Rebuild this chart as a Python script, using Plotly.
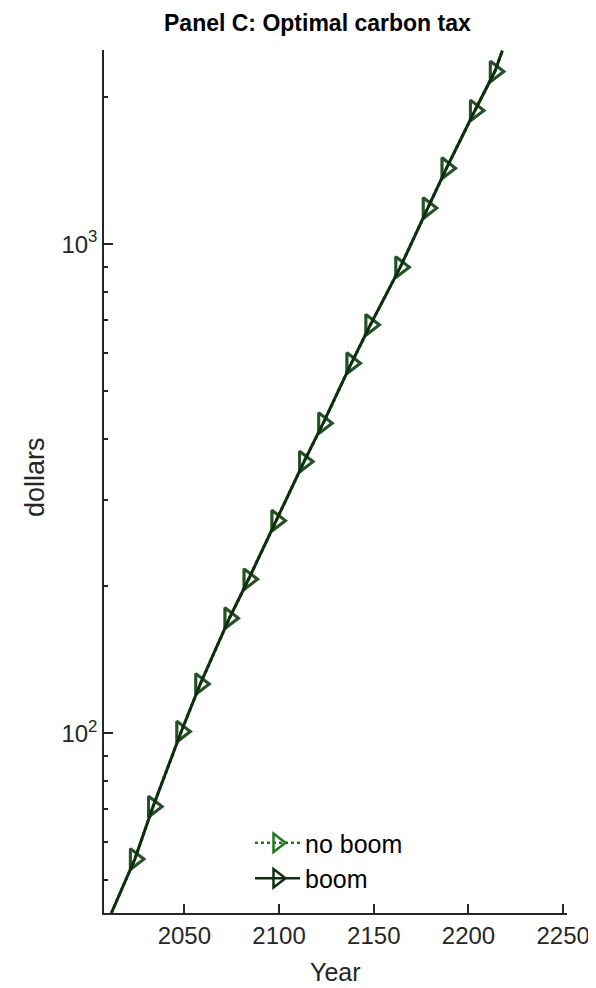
import plotly.graph_objects as go
import math

# ---- data ----
years = [2011.5, 2023.9, 2033.5, 2048.4, 2058.4, 2073.8, 2083.9, 2098.6, 2113.2,
         2123.3, 2138.2, 2148.2, 2164.0, 2178.5, 2188.4, 2203.4, 2213.9, 2217.9]
tax_boom = [42.9, 55.3, 70.8, 100.8, 126.1, 171.9, 206.5, 272.1, 359.3,
            430.5, 571.0, 683.9, 897.4, 1185, 1430, 1876, 2254, 2488]
tax_noboom = [42.9, 55.3, 70.8, 100.8, 126.1, 171.9, 206.5, 272.1, 359.3,
              430.5, 571.0, 683.9, 897.4, 1185, 1430, 1876, 2254, 2488]
marker_flags = [0, 1, 1, 1, 1, 1, 1, 1, 1, 1, 1, 1, 1, 1, 1, 1, 1, 0]

x_ticks = [2050, 2100, 2150, 2200, 2250]
y_ticks = [100, 1000]
y_ticktext = ["10<sup>2</sup>", "10<sup>3</sup>"]
y_minor = [50, 60, 70, 80, 90, 200, 300, 400, 500, 600, 700, 800, 900, 2000]

title_text = "Panel C: Optimal carbon tax"
x_label = "Year"
y_label = "dollars"
names = ["no boom", "boom"]

# ---- styling ----
C_NOBOOM = "#1f7a1f"
C_BOOM = "#0f2e0f"
AX = "#262626"
FONT = "Liberation Sans, Arial, sans-serif"
MS = 18
LW = 3

OFF = 8  # page body offset
W, H = 596 - OFF, 988 - OFF
L, R, T, B = 104 - OFF, 29, 50 - OFF, 75
pw, ph = W - L - R, H - T - B

def px_to_paper_x(px):
    return (px - OFF - L) / pw

def px_to_paper_y(py):
    return (H - B - (py - OFF)) / ph

sizes = [MS if f else 0 for f in marker_flags]

fig = go.Figure()
fig.add_trace(go.Scatter(
    x=years, y=tax_noboom, mode="lines+markers", showlegend=False,
    line=dict(color=C_NOBOOM, width=LW, dash="dot"),
    marker=dict(symbol="triangle-right-open", size=sizes, color=C_NOBOOM,
                line=dict(width=LW, color=C_NOBOOM)),
))
fig.add_trace(go.Scatter(
    x=years, y=tax_boom, mode="lines+markers", showlegend=False,
    line=dict(color=C_BOOM, width=LW),
    marker=dict(symbol="triangle-right-open", size=sizes, color=C_BOOM,
                line=dict(width=LW, color=C_BOOM)),
))
# legend entries
for nm, col, dash in [(names[0], C_NOBOOM, "dot"), (names[1], C_BOOM, "solid")]:
    fig.add_trace(go.Scatter(
        x=[None], y=[None], mode="lines+markers", name=nm,
        line=dict(color=col, width=2.5, dash=dash),
        marker=dict(symbol="triangle-right-open", size=16, color=col,
                    line=dict(width=2.5, color=col)),
    ))

fig.update_layout(
    width=W, height=H,
    margin=dict(l=L, r=R, t=T, b=B, autoexpand=False),
    paper_bgcolor="white", plot_bgcolor="white",
    font=dict(family=FONT, size=24, color=AX),
    showlegend=True,
    legend=dict(x=px_to_paper_x(250), y=px_to_paper_y(820), xanchor="left", yanchor="top",
                bgcolor="rgba(0,0,0,0)", font=dict(size=25, color="#000000"),
                itemwidth=45, tracegroupgap=0),
)
fig.update_xaxes(
    range=[2007.6, 2252], showline=True, linecolor=AX, linewidth=1.5,
    ticks="inside", ticklen=9, tickwidth=1.5, tickcolor=AX,
    tickvals=x_ticks, showgrid=False, zeroline=False, mirror=False,
    tickfont=dict(size=24, color=AX),
)
fig.update_yaxes(
    type="log", range=[math.log10(42.9), 3.397], showline=True, linecolor=AX, linewidth=1.5,
    ticks="inside", ticklen=9, tickwidth=1.5, tickcolor=AX,
    tickvals=y_ticks, ticktext=y_ticktext, showgrid=False, zeroline=False, mirror=False,
    tickfont=dict(size=24, color=AX),
    minor=dict(tickvals=y_minor, ticks="inside", ticklen=4, tickwidth=1.5, tickcolor=AX, showgrid=False),
)
fig.add_annotation(text="<b>" + title_text + "</b>", xref="paper", yref="paper",
                   x=px_to_paper_x(317.5), y=px_to_paper_y(23), xanchor="center", yanchor="middle",
                   showarrow=False, font=dict(size=23, color="#000000"))
fig.add_annotation(text=x_label, xref="paper", yref="paper",
                   x=0.5, y=px_to_paper_y(972), xanchor="center", yanchor="middle",
                   showarrow=False, font=dict(size=25, color=AX))
fig.add_annotation(text=y_label, xref="paper", yref="paper", textangle=-90,
                   x=px_to_paper_x(35), y=px_to_paper_y(477), xanchor="center", yanchor="middle",
                   showarrow=False, font=dict(size=27, color=AX))

fig.write_html("out.html")
